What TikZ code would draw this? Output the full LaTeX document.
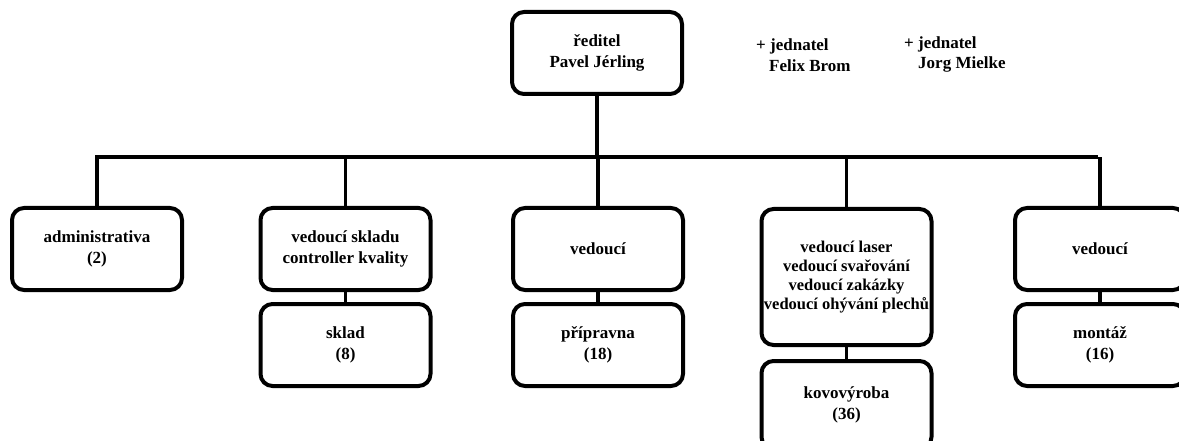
\documentclass[tikz,border=0pt]{standalone}
\usepackage{fontspec}
\setmainfont{Liberation Serif}
\begin{document}
\begin{tikzpicture}[x=1pt,y=-1pt,
  every node/.style={font=\fontsize{17}{21}\selectfont\bfseries},
  unit/.style={draw=black, line width=4pt, rounded corners=12pt,
    minimum width=170pt, minimum height=82pt, inner sep=0pt, align=center},
  tallunit/.style={unit, minimum height=136pt,
    font=\fontsize{16.5}{19}\selectfont\bfseries},
  link/.style={line width=3.5pt},
  plain/.style={anchor=base west, inner sep=0pt}]
\clip (0,0) rectangle (1179,441);
\fill[white] (0,0) rectangle (1179,441);

% director and co-managers
\node[unit] (dir) at (597,53) {ředitel\\Pavel Jérling};
\node[plain] (j1a) at (756,51) {+ jednatel};
\node[plain] (j1b) at (769,72) {Felix Brom};
\node[plain] (j2a) at (904,49) {+ jednatel};
\node[plain] (j2b) at (918,69) {Jorg Mielke};

% departments
\node[unit] (adm) at (97,249) {administrativa\\(2)};
\node[unit] (skv) at (345.5,249) {vedoucí skladu\\controller kvality};
\node[unit] (pv)  at (598,249) {vedoucí};
\node[tallunit] (kv) at (846.5,277) {vedoucí laser\\vedoucí svařování\\vedoucí zakázky\\vedoucí ohývání plechů};
\node[unit] (mv)  at (1100,249) {vedoucí};

\node[unit] (skl) at (345.5,345) {sklad\\(8)};
\node[unit] (pri) at (598,345) {přípravna\\(18)};
\node[unit, minimum height=88pt] (kov) at (846.5,405) {kovovýroba\\(36)};
\node[unit] (mon) at (1100,345) {montáž\\(16)};

% distribution bar
\coordinate (bl) at (95,157);
\coordinate (br) at (1098,157);
\draw[link] (bl) -- (br);
\draw[link] (dir.south) -- (dir.south |- bl);
\foreach \n in {adm,skv,pv,kv,mv}
  \draw[link] (\n.north) -- (\n.north |- bl);

% sections under their heads
\draw[link] (skv.south) -- (skl.north);
\draw[link] (pv.south) -- (pri.north);
\draw[link] (kv.south) -- (kov.north);
\draw[link] (mv.south) -- (mon.north);
\end{tikzpicture}
\end{document}
